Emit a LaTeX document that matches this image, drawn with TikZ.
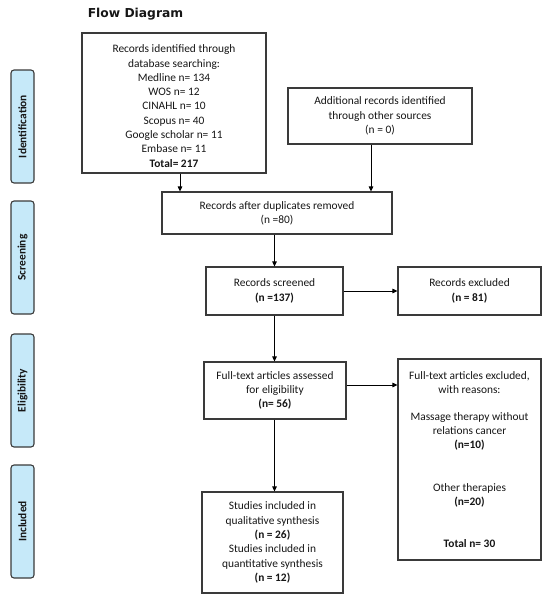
\documentclass[tikz,border=0pt]{standalone}
\usepackage{fontspec}
\setmainfont{Carlito}
\newfontfamily\titlefont{DejaVu Sans}
\usetikzlibrary{arrows.meta,calc}
\definecolor{boxline}{HTML}{3A3A3A}
\definecolor{phasefill}{HTML}{C6E9F9}
\definecolor{txt}{HTML}{161616}
\tikzset{
  stagebox/.style={draw=boxline,line width=1.1pt,fill=white,inner sep=0pt,align=center,text=txt,
    font=\fontsize{11.4}{14.3}\selectfont},
  phase/.style={draw=boxline,line width=1.1pt,fill=phasefill,rounded corners=3pt,minimum height=23pt,
    minimum width=113pt,inner sep=0pt,rotate=90,text=txt,font=\fontsize{11.4}{13}\selectfont\bfseries},
  arr/.style={draw=black,line width=0.9pt,-{Triangle[length=5pt,width=4.5pt]}}
}
\begin{document}
\begin{tikzpicture}[x=1pt,y=-1pt]
\useasboundingbox (0,0) rectangle (550,603);
\node[text=txt,font=\titlefont\fontsize{12.3}{14}\selectfont\bfseries] (title) at (135.5,14) {Flow Diagram};
% phase labels
\node[phase] (ident) at (22.5,126.5) {Identification};
\node[phase] (screen) at (22.5,257.5) {Screening};
\node[phase] (elig) at (22.5,390.5) {Eligibility};
\node[phase] (incl) at (22.5,521.5) {Included};
% boxes
\node[stagebox,minimum width=184pt,minimum height=140pt] (db) at (174,103)
 {\rule{0pt}{14pt}Records identified through\\database searching:\\Medline n= 134\\WOS n= 12\\CINAHL n= 10\\Scopus n= 40\\Google scholar n= 11\\Embase n= 11\\\textbf{Total= 217}};
\node[stagebox,minimum width=184pt,minimum height=56pt] (other) at (380,116)
 {Additional records identified\\through other sources\\(n = 0)};
\node[stagebox,minimum width=230pt,minimum height=42pt] (dup) at (277,213)
 {Records after duplicates removed\\(n =80)};
\node[stagebox,minimum width=137pt,minimum height=48pt] (scr) at (274.5,291)
 {Records screened\\\textbf{(n =137)}};
\node[stagebox,minimum width=143pt,minimum height=48pt] (exc) at (469.5,291)
 {Records excluded\\\textbf{(n = 81)}};
\node[stagebox,minimum width=142pt,minimum height=57pt] (full) at (275,390.5)
 {Full-text articles assessed\\for eligibility\\\textbf{(n= 56)}};
\node[stagebox,minimum width=143pt,minimum height=201pt] (fexc) at (469.5,459.5)
 {Full-text articles excluded,\\with reasons:\\[12.5pt]Massage therapy without\\relations cancer\\\textbf{(n=10)}\\[28.5pt]Other therapies\\\textbf{(n=20)}\\[27.5pt]\textbf{Total n= 30}};
\node[stagebox,minimum width=141pt,minimum height=101pt] (inc) at (272.5,542.5)
 {Studies included in\\qualitative synthesis\\\textbf{(n = 26)}\\Studies included in\\quantitative synthesis\\\textbf{(n = 12)}};
% connectors
\draw[arr] ([xshift=6pt]db.south) -- ([xshift=6pt]db.south |- dup.north);
\draw[arr] ([xshift=-9pt]other.south) -- ([xshift=-9pt]other.south |- dup.north);
\draw[arr] (dup.south -| scr.north) -- (scr.north);
\draw[arr] (scr.east) -- (exc.west);
\draw[arr] (scr.south) -- (scr.south |- full.north);
\draw[arr] ([yshift=5.5pt]full.east) -- ([yshift=5.5pt]full.east -| fexc.west);
\draw[arr] (scr.south |- full.south) -- (scr.south |- inc.north);
\end{tikzpicture}
\end{document}
